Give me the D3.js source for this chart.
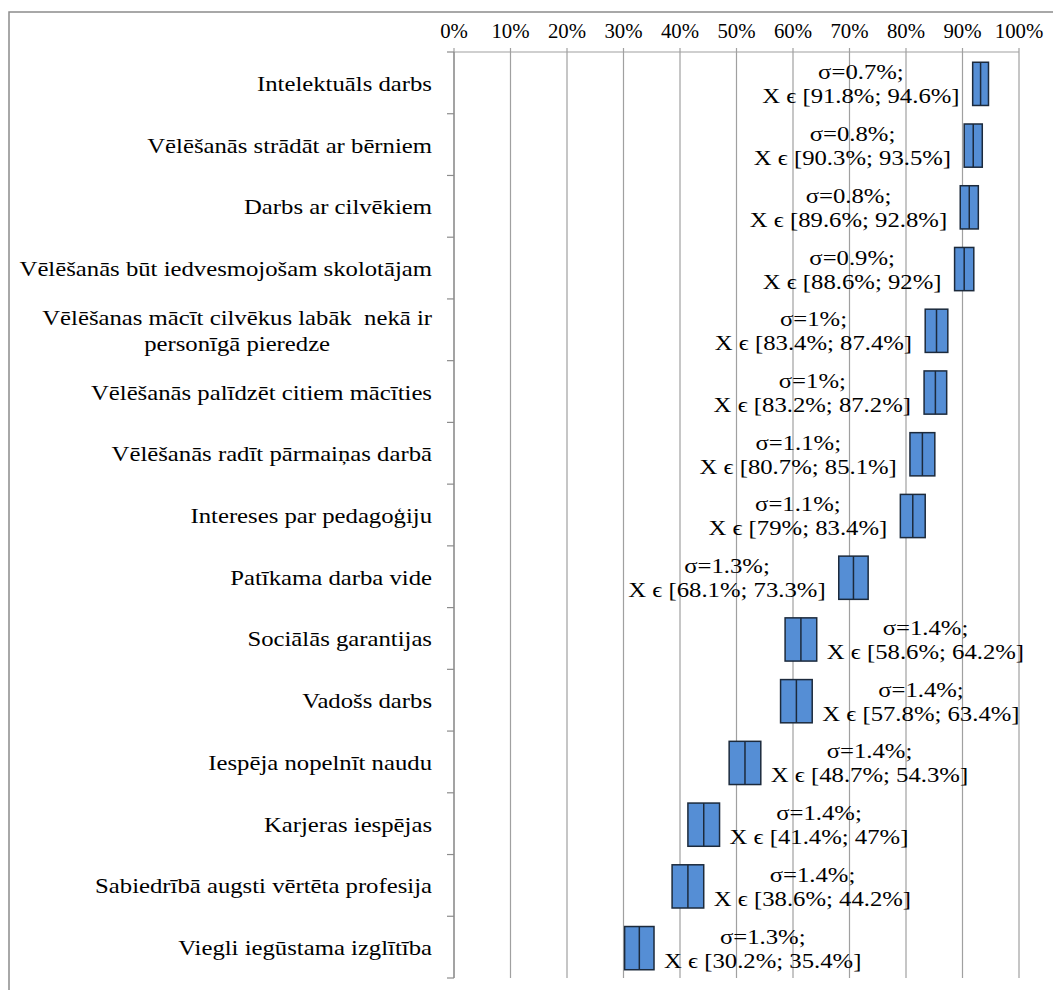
<!DOCTYPE html>
<html>
<head>
<meta charset="utf-8">
<script src="https://cdn.jsdelivr.net/npm/d3@7"></script>
<style>
  html, body { margin: 0; padding: 0; background: #fff; }
  svg { display: block; }
  text { font-family: "Liberation Serif", "Times New Roman", serif; fill: #000; white-space: pre; }
</style>
</head>
<body>
<svg id="chart" width="1053" height="990"></svg>
<script>
// Motivation factors (top to bottom); "\n" breaks a label onto two lines
const categories = [
  "Intelektuāls darbs",
  "Vēlēšanās strādāt ar bērniem",
  "Darbs ar cilvēkiem",
  "Vēlēšanās būt iedvesmojošam skolotājam",
  "Vēlēšanas mācīt cilvēkus labāk  nekā ir\npersonīgā pieredze",
  "Vēlēšanās palīdzēt citiem mācīties",
  "Vēlēšanās radīt pārmaiņas darbā",
  "Intereses par pedagoģiju",
  "Patīkama darba vide",
  "Sociālās garantijas",
  "Vadošs darbs",
  "Iespēja nopelnīt naudu",
  "Karjeras iespējas",
  "Sabiedrībā augsti vērtēta profesija",
  "Viegli iegūstama izglītība"
];
// Confidence interval bounds, %
const lower = [91.8, 90.3, 89.6, 88.6, 83.4, 83.2, 80.7, 79, 68.1, 58.6, 57.8, 48.7, 41.4, 38.6, 30.2];
const upper = [94.6, 93.5, 92.8, 92, 87.4, 87.2, 85.1, 83.4, 73.3, 64.2, 63.4, 54.3, 47, 44.2, 35.4];
// Standard deviation, %
const sigma = [0.7, 0.8, 0.8, 0.9, 1, 1, 1.1, 1.1, 1.3, 1.4, 1.4, 1.4, 1.4, 1.4, 1.3];
// Which side of the box the annotation sits on
const labelSide = ["left","left","left","left","left","left","left","left","left",
                   "right","right","right","right","right","right"];
const xTicks = [0, 10, 20, 30, 40, 50, 60, 70, 80, 90, 100];

const rows = categories.map((c, i) => ({
  name: c, lo: lower[i], hi: upper[i], mid: (lower[i] + upper[i]) / 2,
  sd: sigma[i], side: labelSide[i]
}));

const svg = d3.select("#chart");
const plot = { left: 454, right: 1019, top: 52, bottom: 978 };
const catSX = 1.15;   // wide setting of the serif labels
const annSX = 1.15;
const tickSX = 1.04;

const x = d3.scaleLinear().domain([0, 100]).range([plot.left, plot.right]);
const y = d3.scaleBand().domain(categories).range([plot.top, plot.bottom]);

// outer frame
svg.append("rect")
  .attr("x", 9).attr("y", 12).attr("width", 1100).attr("height", 1100)
  .attr("fill", "none").attr("stroke", "#8c8c8c").attr("stroke-width", 1.5);

// vertical gridlines with small ticks above the top axis
svg.append("g").selectAll("line").data(xTicks).join("line")
  .attr("x1", d => x(d)).attr("x2", d => x(d))
  .attr("y1", plot.top - 4).attr("y2", plot.bottom)
  .attr("stroke", "#a0a0a0").attr("stroke-width", 1.2);

// top axis line
svg.append("line")
  .attr("x1", plot.left).attr("x2", plot.right)
  .attr("y1", plot.top).attr("y2", plot.top)
  .attr("stroke", "#a0a0a0").attr("stroke-width", 1.2);

// x tick labels
svg.append("g").selectAll("text").data(xTicks).join("text")
  .attr("transform", d => `translate(${x(d)},38) scale(${tickSX},1)`)
  .attr("text-anchor", "middle")
  .style("font-size", "20px")
  .text(d => d + "%");

// category axis with boundary ticks
const boundaries = d3.range(categories.length + 1).map(i => plot.top + i * y.step());
svg.append("line")
  .attr("x1", plot.left).attr("x2", plot.left)
  .attr("y1", plot.top).attr("y2", plot.bottom)
  .attr("stroke", "#8c8c8c").attr("stroke-width", 1.2);
svg.append("g").selectAll("line").data(boundaries).join("line")
  .attr("x1", plot.left - 7).attr("x2", plot.left)
  .attr("y1", d => d).attr("y2", d => d)
  .attr("stroke", "#8c8c8c").attr("stroke-width", 1.2);

// category labels
const catG = svg.append("g").selectAll("text").data(rows).join("text")
  .attr("transform", `translate(432,0) scale(${catSX},1)`)
  .attr("text-anchor", "end")
  .style("font-size", "21.5px");
catG.each(function (d) {
  const lines = d.name.split("\n");
  const cy = y(d.name) + y.bandwidth() / 2;
  const lh = 26;
  const y0 = cy + 8 - (lines.length - 1) * lh / 2;
  const t = d3.select(this);
  lines.forEach((ln, k) => {
    t.append("tspan").attr("x", 0).attr("y", y0 + k * lh).text(ln);
  });
});
// second line of the wrapped label is centred under the first
catG.filter(d => d.name.includes("\n")).each(function () {
  const spans = d3.select(this).selectAll("tspan").nodes();
  const w0 = spans[0].getComputedTextLength();
  d3.select(spans[1]).attr("x", -w0 / 2).attr("text-anchor", "middle");
});

// interval boxes with a line at the mean
const boxH = y.bandwidth() * 0.7;
const boxes = svg.append("g").selectAll("g").data(rows).join("g");
boxes.append("rect")
  .attr("x", d => x(d.lo)).attr("width", d => x(d.hi) - x(d.lo))
  .attr("y", d => y(d.name) + (y.bandwidth() - boxH) / 2 + 1)
  .attr("height", boxH)
  .attr("fill", "#558ed5").attr("stroke", "#1c2a3c").attr("stroke-width", 1.5);
boxes.append("line")
  .attr("x1", d => x(d.mid)).attr("x2", d => x(d.mid))
  .attr("y1", d => y(d.name) + (y.bandwidth() - boxH) / 2 + 1)
  .attr("y2", d => y(d.name) + (y.bandwidth() + boxH) / 2 + 1)
  .attr("stroke", "#1c2a3c").attr("stroke-width", 1.5);

// annotations: σ and the interval
const ann = svg.append("g").selectAll("g").data(rows).join("g");
ann.each(function (d) {
  const g = d3.select(this);
  const cy = y(d.name) + y.bandwidth() / 2;
  const inner = g.append("g");
  const l2 = inner.append("text").style("font-size", "21.5px")
    .attr("x", 0).attr("y", cy + 20.5)
    .text("X \u03f5 [" + d.lo + "%; " + d.hi + "%]");
  const w = l2.node().getComputedTextLength();
  const ws = w * annSX;
  const left = d.side === "left" ? x(d.lo) - 13 - ws : x(d.hi) + 10;
  inner.attr("transform", `translate(${left},0) scale(${annSX},1)`);
  inner.append("text").style("font-size", "21.5px")
    .attr("x", w / 2).attr("y", cy - 3.5)
    .attr("text-anchor", "middle")
    .text("\u03c3=" + d.sd + "%;");
});
</script>
</body>
</html>
